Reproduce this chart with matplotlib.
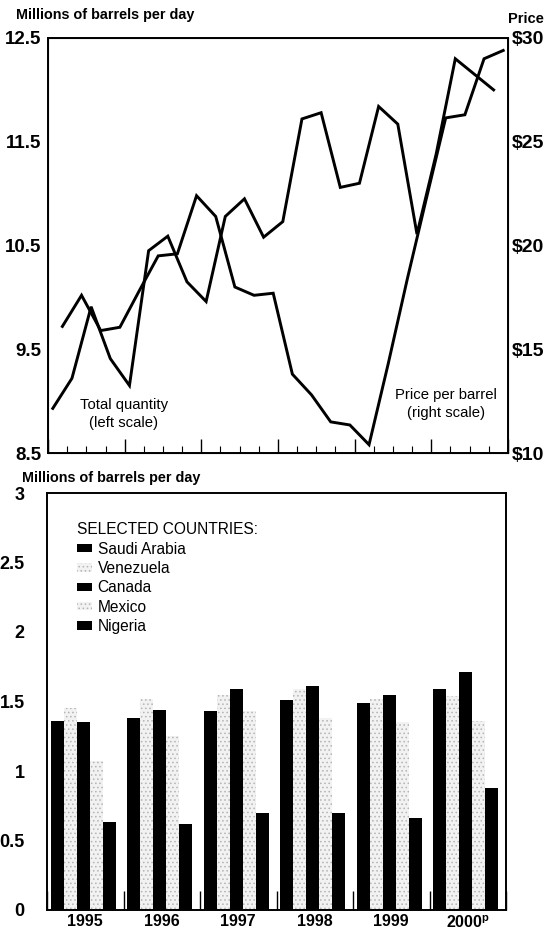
import matplotlib
matplotlib.use("Agg")
import matplotlib.pyplot as plt
import numpy as np

plt.rcParams['font.family'] = ['Liberation Sans', 'DejaVu Sans']
plt.rcParams['hatch.linewidth'] = 0.6

# top panel: quarterly, 1995 Q1 .. 2000 Q4
quantity = [8.93, 9.22, 9.91, 9.41, 9.15, 10.45, 10.59, 10.15, 9.96, 10.78, 10.95, 10.58,
            10.73, 11.72, 11.78, 11.06, 11.10, 11.84, 11.67, 10.61, 11.38, 12.30, 12.15, 12.00]
price = [16.1, 17.6, 15.9, 16.06, 17.8, 19.5, 19.6, 22.4, 21.4, 18.0, 17.6, 17.7,
         13.8, 12.8, 11.5, 11.35, 10.4, 14.3, 18.4, 22.3, 26.15, 26.3, 29.0, 29.4]

# bottom panel
years = ['1995', '1996', '1997', '1998', '1999', '2000$^\\mathregular{p}$']
countries = ['Saudi Arabia', 'Venezuela', 'Canada', 'Mexico', 'Nigeria']
saudi = [1.36, 1.38, 1.43, 1.51, 1.49, 1.59]
venezuela = [1.45, 1.52, 1.55, 1.59, 1.52, 1.54]
canada = [1.35, 1.44, 1.59, 1.61, 1.55, 1.71]
mexico = [1.07, 1.25, 1.43, 1.38, 1.35, 1.36]
nigeria = [0.63, 0.62, 0.70, 0.70, 0.66, 0.88]

left_ticks = [8.5, 9.5, 10.5, 11.5, 12.5]
right_ticks = [10, 15, 20, 25, 30]
bar_ticks = [0, 0.5, 1, 1.5, 2, 2.5, 3]

W, H = 547, 933
fig = plt.figure(figsize=(W / 100, H / 100), dpi=100)


def fx(px):
    return px / W


def fy(py):
    return 1 - py / H


# ---------- top chart ----------
ax1 = fig.add_axes([fx(48), fy(453), fx(508) - fx(48), fy(38) - fy(453)])
n = len(quantity)
q = np.arange(n)
ax1.plot(q + 0.25, quantity, color='black', lw=2.1, solid_joinstyle='miter')
ax1.set_xlim(0, n)
ax1.set_ylim(8.5, 12.5)
ax1.set_yticks(left_ticks)
ax1.set_yticklabels([f'{v:g}' for v in left_ticks], fontsize=13.5, fontweight='bold')
ax1.tick_params(axis='y', length=0, pad=5)
ax1.set_xticks(np.arange(0, n + 1, 4))
ax1.set_xticks(np.arange(0, n + 1), minor=True)
ax1.set_xticklabels([])
ax1.tick_params(axis='x', which='major', direction='in', length=10, width=1.0)
ax1.tick_params(axis='x', which='minor', direction='in', length=5, width=0.8)
for s in ax1.spines.values():
    s.set_linewidth(1.4)

ax1r = ax1.twinx()
ax1r.plot(q + 0.75, price, color='black', lw=2.1, solid_joinstyle='miter')
ax1r.set_ylim(10, 30)
ax1r.set_yticks(right_ticks)
ax1r.set_yticklabels([f'${v}' for v in right_ticks], fontsize=14, fontweight='bold')
ax1r.tick_params(axis='y', length=0, pad=3)
ax1r.set_xlim(0, n)

ax1.text(3.96, 8.88, 'Total quantity\n(left scale)', ha='center', va='center',
         fontsize=10.7, linespacing=1.35)
ax1.text(20.76, 8.97, 'Price per barrel\n(right scale)', ha='center', va='center',
         fontsize=10.7, linespacing=1.35)

fig.text(fx(16), fy(15), 'Millions of barrels per day', fontsize=10.4, fontweight='bold',
         ha='left', va='center')
fig.text(fx(508), fy(19), 'Price', fontsize=10.5, fontweight='bold', ha='left', va='center')

# ---------- bottom chart ----------
ax2 = fig.add_axes([fx(47), fy(910), fx(506) - fx(47), fy(493) - fy(910)])
series = [saudi, venezuela, canada, mexico, nigeria]
dark = [True, False, True, False, True]
g = np.arange(len(years))
bw = 0.17
handles = []
for k, (vals, name, is_dark) in enumerate(zip(series, countries, dark)):
    xs = g + 0.05 + bw / 2 + k * bw
    if is_dark:
        b = ax2.bar(xs, vals, width=bw, color='black', label=name, zorder=2)
    else:
        b = ax2.bar(xs, vals, width=bw, facecolor='#f2f2f2', edgecolor='#b4b4b4',
                    hatch='....', linewidth=0, label=name, zorder=2)
    handles.append(b)

ax2.set_xlim(0, len(years))
ax2.set_ylim(0, 3)
ax2.set_yticks(bar_ticks)
ax2.set_yticklabels([f'{v:g}' for v in bar_ticks], fontsize=13, fontweight='bold')
ax2.tick_params(axis='y', length=0, pad=16)
ax2.set_xticks(np.arange(0, len(years) + 1))
ax2.set_xticklabels([])
ax2.tick_params(axis='x', which='major', direction='in', length=14, width=1.0)
ax2.set_xticks(g + 0.5, minor=True)
ax2.set_xticklabels(years, minor=True, fontsize=11.5, fontweight='bold')
ax2.tick_params(axis='x', which='minor', length=0, pad=3)
for s in ax2.spines.values():
    s.set_linewidth(1.4)

leg = ax2.legend(handles=handles, title='SELECTED COUNTRIES:', loc='upper left',
                 bbox_to_anchor=(0.065, 0.93), frameon=False, fontsize=11.2,
                 title_fontsize=11.2, alignment='left', handlelength=1.0,
                 handleheight=0.45, handletextpad=0.33, labelspacing=0.28,
                 borderpad=0, borderaxespad=0)

fig.text(fx(22), fy(478), 'Millions of barrels per day', fontsize=10.4, fontweight='bold',
         ha='left', va='center')

fig.savefig('out.png', dpi=100)
